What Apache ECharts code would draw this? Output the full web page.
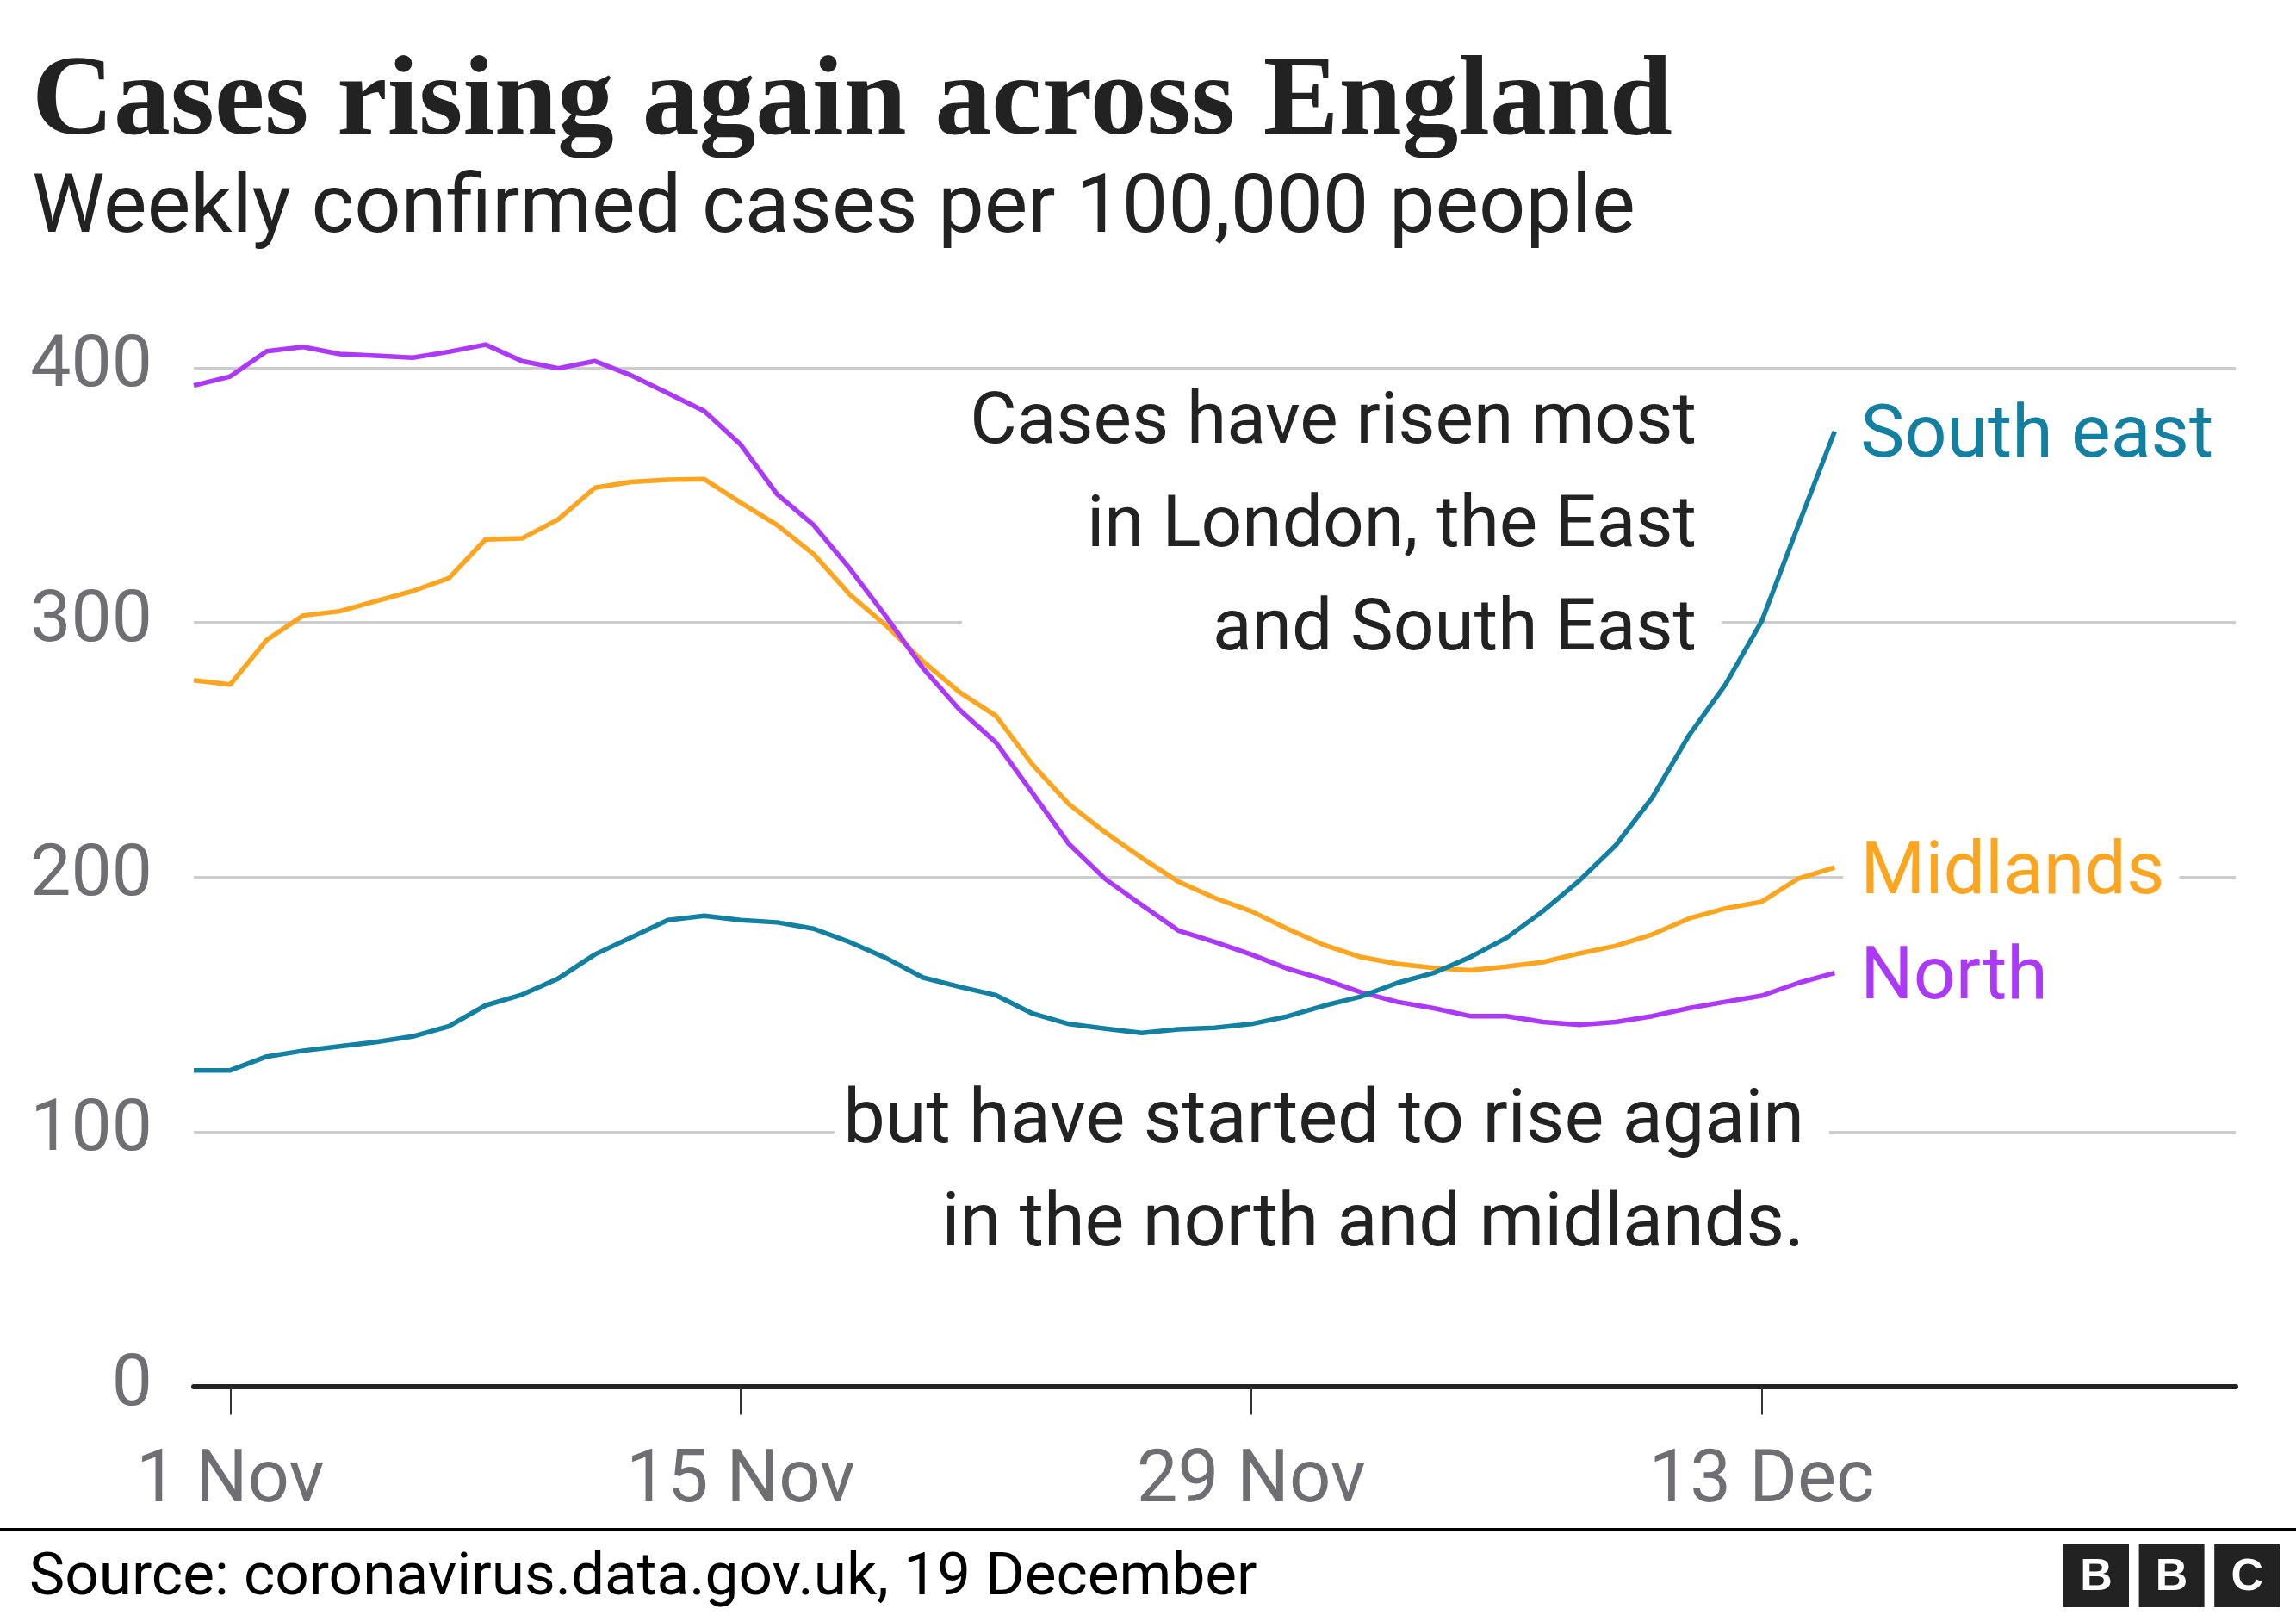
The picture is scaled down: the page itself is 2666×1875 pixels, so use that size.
<!DOCTYPE html>
<html>
<head>
<meta charset="utf-8">
<script src="https://cdn.jsdelivr.net/npm/echarts@6/dist/echarts.min.js"></script>
<style>
html,body{margin:0;padding:0;background:#fff;}
#chart{width:2666px;height:1875px;}
</style>
</head>
<body>
<div id="chart"></div>
<script>
// ---- data ----
const monthNames = ['Jan','Feb','Mar','Apr','May','Jun','Jul','Aug','Sep','Oct','Nov','Dec'];
const axisDayCount = 57; // 31 Oct .. 26 Dec
const categories = [];
for (let i = 0; i < axisDayCount; i++) {
  const d = new Date(2020, 9, 31 + i);
  categories.push(d.getDate() + ' ' + monthNames[d.getMonth()]);
}
const tickLabels = ['1 Nov', '15 Nov', '29 Nov', '13 Dec'];

const southEast = [124.1,124.1,129.5,131.8,133.5,135.2,137.4,141.4,149.6,153.8,160.2,169.6,176.3,183.1,184.8,183.1,182.2,179.7,174.4,168.1,160.5,156.9,153.6,146.4,142.3,140.5,138.8,140.2,140.8,142.3,145.3,149.5,153,158.4,162.3,168.5,176.1,186.6,198.6,212.5,231.2,255.5,275.5,300.5,338,375];
const midlands = [277.3,275.6,293.1,302.7,304.4,308.4,312.3,317.4,332.6,333,340.5,352.9,355.2,356,356.3,347,338.2,326.8,310.8,298.6,284.7,272.6,263.3,244.2,228.6,217.5,207.5,198.2,191.8,186.6,179.6,173.3,168.6,165.9,164.3,163.4,164.8,166.6,170,173,177.5,183.7,187.7,190.3,199.4,203.8];
const north = [393,396.6,406.5,408.2,405.4,404.7,404,406.3,409.1,402.6,399.8,402.6,397,390,383,369.8,350.3,338.2,321,302,282,265.7,252.8,233,213,199.2,189,179,174.5,169.6,164,159.8,154.8,151,148.5,145.4,145.4,143.1,142,143.1,145.4,148.5,151,153.4,158.4,162.3];

const seriesNames = ['Midlands', 'North', 'South east'];
const seriesColors = ['#fca521', '#ab39f7', '#1380a1'];
const yTicks = [0, 100, 200, 300, 400];

const titleText = 'Cases rising again across England';
const subtitleText = 'Weekly confirmed cases per 100,000 people';
const note1 = ['Cases have risen most', 'in London, the East', 'and South East'];
const note2 = ['but have started to rise again', 'in the north and midlands.'];
const sourceText = 'Source: coronavirus.data.gov.uk, 19 December';

// ---- text fitting helper ----
const mctx = document.createElement('canvas').getContext('2d');
function fit(text, weight, family, target) {
  mctx.font = weight + ' 100px ' + family;
  return 100 * target / mctx.measureText(text).width;
}
const SANS = 'Roboto, "Noto Sans", sans-serif';
const SERIF = '"Liberation Serif", serif';
const titleSize = fit(titleText, 'bold', SERIF, 1905);
const subSize = fit(subtitleText, 'normal', SANS, 1862);
const note1Size = fit(note1[0], 'normal', SANS, 844);
const note2Size = fit(note2[0], 'normal', SANS, 1116);
const labelSize = fit('South east', 'normal', SANS, 410);
const sourceSize = fit(sourceText, 'normal', SANS, 1426);

const chart = echarts.init(document.getElementById('chart'), null, {renderer: 'canvas'});

function txt(text, x, y, size, weight, family, color, align) {
  return {
    type: 'text', x: x, y: y, z: 60,
    style: {text: text, font: weight + ' ' + size + 'px ' + family, fill: color, align: align, verticalAlign: 'middle'}
  };
}

const graphics = [
  txt(titleText, 37, 121, titleSize, 'bold', SERIF, '#222222', 'left'),
  txt(subtitleText, 37, 245, subSize, 'normal', SANS, '#222222', 'left'),
  {type: 'rect', z: 50, shape: {x: 1117, y: 440, width: 882, height: 340}, style: {fill: '#ffffff'}},
  {type: 'rect', z: 50, shape: {x: 969, y: 1235, width: 1155, height: 235}, style: {fill: '#ffffff'}},
  {type: 'rect', z: 50, shape: {x: 0, y: 1774, width: 2666, height: 3}, style: {fill: '#000000'}},
  txt(sourceText, 34, 1834, sourceSize, 'normal', SANS, '#000000', 'left')
];
note1.forEach((t, i) => graphics.push(txt(t, 1970, 493 + i * 120, note1Size, 'normal', SANS, '#222222', 'right')));
note2.forEach((t, i) => graphics.push(txt(t, 2095, 1304 + i * 120, note2Size, 'normal', SANS, '#222222', 'right')));
['B', 'B', 'C'].forEach((ch, i) => {
  const bx = 2396 + i * 87.6;
  graphics.push({type: 'rect', z: 50, shape: {x: bx, y: 1793, width: 76, height: 73}, style: {fill: '#222222'}});
  graphics.push(txt(ch, bx + 38, 1832, 52, 'bold', '"Liberation Sans", sans-serif', '#ffffff', 'center'));
});

const dataSets = [midlands, north, southEast];

const option = {
  animation: false,
  backgroundColor: '#ffffff',
  grid: {left: 225, right: 70, top: 427, bottom: 265.5, containLabel: false},
  xAxis: {
    type: 'category',
    data: categories,
    boundaryGap: false,
    axisLine: {show: true, lineStyle: {color: '#222222', width: 6}},
    axisTick: {
      show: true,
      length: 33,
      interval: (idx, val) => tickLabels.indexOf(val) >= 0,
      lineStyle: {color: '#333333', width: 2}
    },
    axisLabel: {
      show: true,
      interval: (idx, val) => tickLabels.indexOf(val) >= 0,
      fontSize: 85,
      fontFamily: SANS,
      color: '#6e6e73',
      margin: 70
    },
    splitLine: {show: false}
  },
  yAxis: {
    type: 'value',
    min: yTicks[0],
    max: yTicks[yTicks.length - 1],
    interval: yTicks[1] - yTicks[0],
    axisLine: {show: false},
    axisTick: {show: false},
    axisLabel: {fontSize: 84, fontFamily: SANS, color: '#6e6e73', margin: 48, padding: [12, 0, 0, 0]},
    splitLine: {show: true, lineStyle: {color: '#cccccc', width: 3}}
  },
  series: seriesNames.map((name, i) => ({
    name: name,
    type: 'line',
    data: dataSets[i],
    symbol: 'none',
    clip: false,
    z: 3 + i,
    lineStyle: {color: seriesColors[i], width: 5.5, join: 'round'},
    itemStyle: {color: seriesColors[i]},
    endLabel: {
      show: true,
      formatter: '{a}',
      color: seriesColors[i],
      fontSize: labelSize,
      fontFamily: SANS,
      distance: 10,
      offset: [0, 8],
      padding: [4, 17, 4, 20],
      backgroundColor: '#ffffff'
    },
    emphasis: {disabled: true}
  })),
  graphic: {elements: graphics}
};
chart.setOption(option);
</script>
</body>
</html>
